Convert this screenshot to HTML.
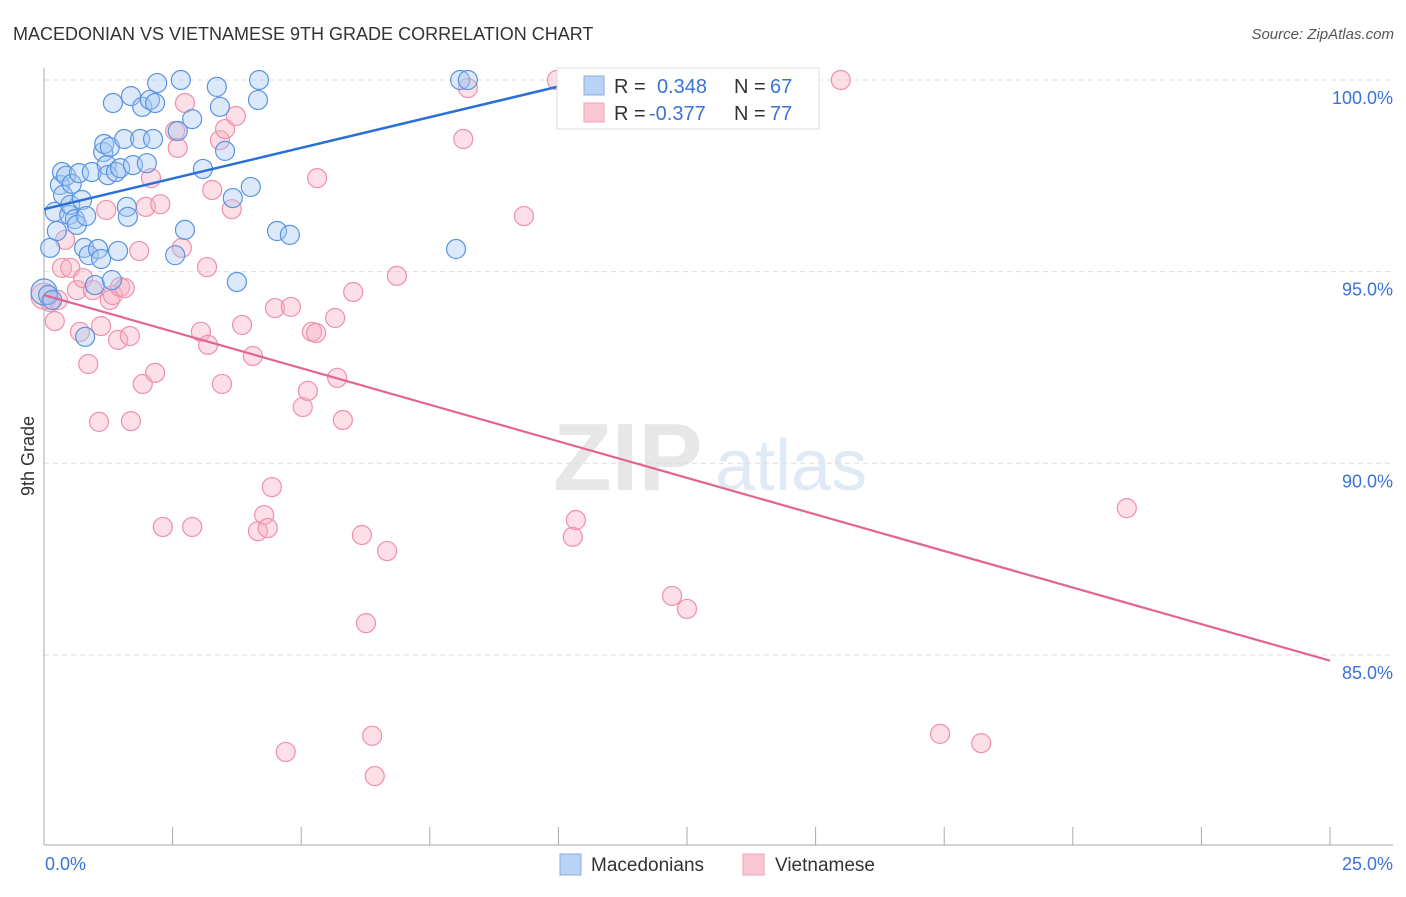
<!DOCTYPE html>
<html><head><meta charset="utf-8"><style>
body{margin:0;background:#fff;font-family:"Liberation Sans",sans-serif;}
svg text{font-family:"Liberation Sans",sans-serif;}
</style></head><body>
<svg id="chart" width="1406" height="892" viewBox="0 0 1406 892" xmlns="http://www.w3.org/2000/svg">
<text x="13" y="40" font-size="18" fill="#333">MACEDONIAN VS VIETNAMESE 9TH GRADE CORRELATION CHART</text>
<text x="1394" y="39" font-size="15" fill="#555" font-style="italic" text-anchor="end">Source: ZipAtlas.com</text>
<g opacity="0.35">
<text x="553" y="490" font-size="96" fill="#bbb" font-family="Liberation Serif" font-weight="bold">ZIP</text>
<text x="715" y="490" font-size="72" fill="#a9c4e8">atlas</text>
</g>
<g id="grid"></g>
<g id="axes"></g>
<g id="pts-pink"></g>
<g id="pts-blue"></g>
<g id="trends"></g>
<text transform="translate(34,456) rotate(-90)" font-size="18" fill="#333" text-anchor="middle">9th Grade</text>
<text x="45" y="870" font-size="18" fill="#3a72d8">0.0%</text>
<text x="1393" y="870" font-size="18" fill="#3a72d8" text-anchor="end">25.0%</text>
<g>
<rect x="557" y="68" width="262" height="61" fill="#fff" stroke="#ddd"/>
<rect x="584" y="76" width="20" height="19" fill="#b8d3f5" stroke="#86aee8"/>
<rect x="584" y="103" width="20" height="19" fill="#fac6d4" stroke="#f2a2b8"/>
<text x="614" y="93" font-size="20" fill="#333">R =</text>
<text x="657" y="93" font-size="20" fill="#3a72d8">0.348</text>
<text x="734" y="93" font-size="20" fill="#333">N =</text>
<text x="770" y="93" font-size="20" fill="#3a72d8">67</text>
<text x="614" y="120" font-size="20" fill="#333">R =</text>
<text x="649" y="120" font-size="20" fill="#3a72d8">-0.377</text>
<text x="734" y="120" font-size="20" fill="#333">N =</text>
<text x="770" y="120" font-size="20" fill="#3a72d8">77</text>
</g>
<g>
<rect x="560" y="854" width="21" height="21" fill="#b8d3f5" stroke="#86aee8"/>
<text x="591" y="871" font-size="19" fill="#333">Macedonians</text>
<rect x="743" y="854" width="21" height="21" fill="#fac6d4" stroke="#f2a2b8"/>
<text x="775" y="871" font-size="19" fill="#333">Vietnamese</text>
</g>
</svg>
<script>
const blueX=[0,0.12,0.21,0.25,0.31,0.35,0.37,0.43,0.49,0.51,0.54,0.60,0.64,0.68,0.74,0.78,0.82,0.80,0.87,0.93,0.99,1.05,1.11,1.15,1.17,1.28,1.22,1.24,1.32,1.34,1.40,1.44,1.48,1.56,1.61,1.63,1.69,1.73,1.87,1.91,2.00,2.06,2.12,2.16,2.20,2.55,2.60,2.66,2.74,2.88,3.09,3.36,3.42,3.52,3.67,3.75,4.02,4.18,4.16,4.53,4.78,8.01,8.09,8.24,0.08,0.16];
const blueY=[94.47,95.62,96.56,96.06,97.26,97.60,97.00,97.50,96.48,96.74,97.29,96.37,96.22,97.57,96.87,95.62,96.45,93.30,95.43,97.60,94.65,95.59,95.33,98.12,98.33,98.25,97.78,97.52,94.78,99.40,97.60,95.54,97.70,98.46,96.69,96.43,99.58,97.78,98.46,99.30,97.83,99.48,98.46,99.40,99.92,95.43,98.67,100.0,96.09,98.98,97.68,99.82,99.30,98.15,96.92,94.73,97.21,100.0,99.48,96.06,95.96,95.59,100.0,100.0,94.39,94.26];
const pinkX=[0,0.12,0.21,0.27,0.35,0.41,0.51,0.64,0.70,0.76,0.86,0.95,1.07,1.11,1.21,1.28,1.34,1.44,1.48,1.57,1.67,1.69,1.85,1.92,1.98,2.08,2.16,2.26,2.31,2.55,2.60,2.68,2.74,2.88,3.05,3.17,3.19,3.27,3.42,3.46,3.52,3.65,3.73,3.85,4.06,4.16,4.28,4.35,4.43,4.49,4.70,4.80,5.03,5.13,5.21,5.29,5.31,5.66,5.70,5.81,6.01,6.18,6.26,6.38,6.43,6.67,6.86,8.15,8.24,9.33,9.97,10.28,10.34,12.21,12.50,15.49,17.42,18.22,21.05];
const pinkY=[94.36,94.21,93.71,94.26,95.10,95.83,95.10,94.52,93.43,94.83,92.59,94.52,91.08,93.58,96.61,94.26,94.39,93.22,94.60,94.57,93.32,91.10,95.54,92.07,96.69,97.44,92.36,96.76,88.34,98.67,98.23,95.62,99.40,88.34,93.43,95.12,93.09,97.13,98.43,92.07,98.72,96.63,99.06,93.61,92.80,88.23,88.65,88.31,89.38,94.05,82.47,94.08,91.47,91.89,93.43,93.40,97.44,93.79,92.23,91.13,94.47,88.13,85.83,82.89,81.84,87.71,94.89,98.46,99.79,96.45,100.0,88.08,88.52,86.54,86.20,100.0,82.94,82.70,88.83];
const yTicks=[100,95,90,85];
const yTickLabels=["100.0%","95.0%","90.0%","85.0%"];
const xTicks=[0,2.5,5,7.5,10,12.5,15,17.5,20,22.5,25];
const blueTrend=[[0,96.63],[9.97,99.82]];
const pinkTrend=[[0,94.39],[25,84.85]];

const NS="http://www.w3.org/2000/svg";
const sx=v=>44+v*51.44;
const sy=v=>80+(100-v)*38.33;
function mk(tag,attrs,parent){const e=document.createElementNS(NS,tag);for(const k in attrs)e.setAttribute(k,attrs[k]);parent.appendChild(e);return e;}
const grid=document.getElementById('grid'),axes=document.getElementById('axes');
yTicks.forEach((t,i)=>{
  const l=mk('line',{x1:44,x2:1393,y1:sy(t),y2:sy(t),stroke:'#ddd','stroke-dasharray':'5,4'},grid);
  
  
  const tx=mk('text',{x:1393,y:sy(t)+24,'font-size':18,fill:'#3a72d8','text-anchor':'end'},axes);
  tx.textContent=yTickLabels[i];
  
  
});
const xa=mk('line',{x1:44,x2:1393,y1:845,y2:845,stroke:'#aaa'},axes);


const ya=mk('line',{x1:44,x2:44,y1:68,y2:845,stroke:'#aaa'},axes);


xTicks.forEach(t=>{
  const l=mk('line',{x1:sx(t),x2:sx(t),y1:827,y2:845,stroke:'#aaa'},axes);
  
  
});
function pts(X,Y,g,fill,stroke,name){
  X.forEach((x,i)=>{
    const c=mk('circle',{cx:sx(x),cy:sy(Y[i]),r:(x===0?13:9.5),fill:fill,'fill-opacity':0.4,stroke:stroke,'stroke-width':1.2},g);
    
    
  });
}
pts(pinkX,pinkY,document.getElementById('pts-pink'),'#f7aec3','#ef8fab','vietnamese-point');
pts(blueX,blueY,document.getElementById('pts-blue'),'#a6c8f2','#5b93e0','macedonian-point');
const tr=document.getElementById('trends');
const bl=mk('line',{x1:sx(blueTrend[0][0]),y1:sy(blueTrend[0][1]),x2:sx(blueTrend[1][0]),y2:sy(blueTrend[1][1]),stroke:'#2a6fd6','stroke-width':2.5},tr);


const pl=mk('line',{x1:sx(pinkTrend[0][0]),y1:sy(pinkTrend[0][1]),x2:sx(pinkTrend[1][0]),y2:sy(pinkTrend[1][1]),stroke:'#e4648f','stroke-width':2.2},tr);


</script>
</body></html>
